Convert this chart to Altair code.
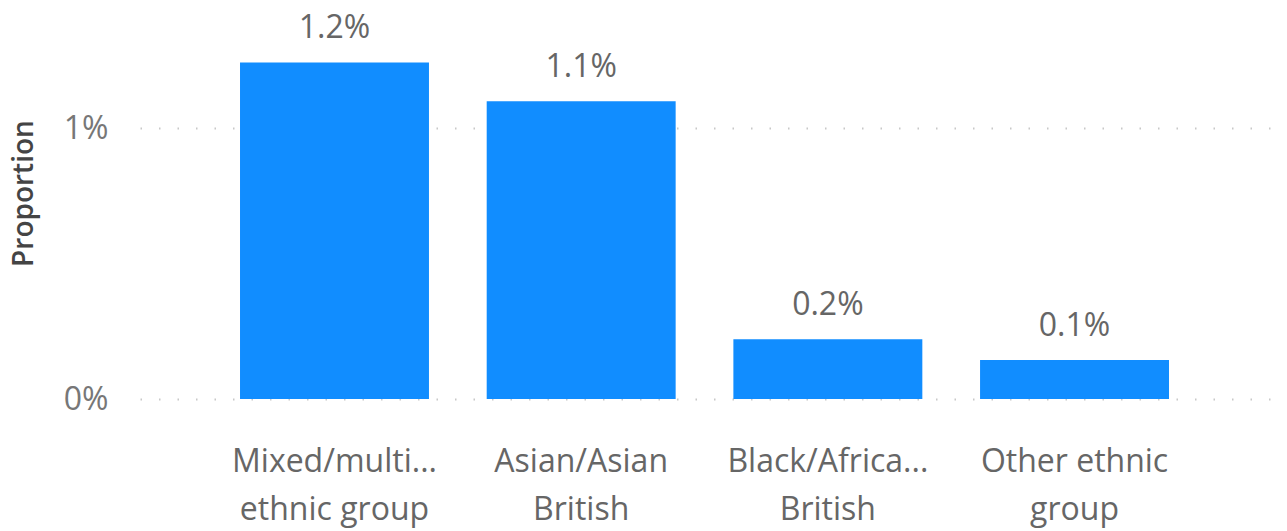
import altair as alt
import pandas as pd

categories = ["Mixed/multi...|ethnic group", "Asian/Asian|British", "Black/Africa...|British", "Other ethnic|group"]
values = [0.01243, 0.0110, 0.00221, 0.00144]

df = pd.DataFrame({"cat": categories, "val": values})

FONT = "Open Sans"
x = alt.X("cat:N", sort=None, title=None,
          scale=alt.Scale(paddingInner=0.234, paddingOuter=0.4277, align=0.474),
          axis=alt.Axis(labelExpr="split(datum.label, '|')", labelAngle=0,
                        labelFontSize=32, labelColor="#666666", labelFont=FONT,
                        labelLineHeight=48, labelPadding=62, labelBaseline="middle",
                        labelLimit=500, labelOverlap=False,
                        ticks=False, domain=False, grid=False))
y = alt.Y("val:Q", title="Proportion",
          scale=alt.Scale(domain=[0, 0.013], nice=False),
          axis=alt.Axis(values=[0, 0.01], format=".0%", labelFontSize=32,
                        labelColor="#777777", labelFont=FONT, labelPadding=32,
                        ticks=False, domain=False, grid=True, gridColor="#c8c8c8",
                        gridDash=[1.5, 17], gridWidth=2,
                        titleFontSize=28, titleFont=FONT, titleColor="#444444",
                        titleFontWeight=600, titleAngle=270, titleX=-116, titleY=146,
                        titleAlign="center", titleBaseline="middle"))

bars = alt.Chart(df).mark_bar(color="#118DFF").encode(x=x, y=y)
labels = alt.Chart(df).mark_text(dy=-24, fontSize=32, color="#666666", font=FONT,
                                 baseline="alphabetic").encode(
    x=alt.X("cat:N", sort=None), y="val:Q", text=alt.Text("val:Q", format=".1%"))

chart = (bars + labels).properties(
    width=1140, height=352,
    autosize=alt.AutoSizeParams(type="none"),
    padding={"left": 140, "top": 47, "right": 7, "bottom": 132},
    background="white",
).configure_view(stroke=None)

chart.save("out.html", embed_options={"renderer": "svg", "actions": False})
